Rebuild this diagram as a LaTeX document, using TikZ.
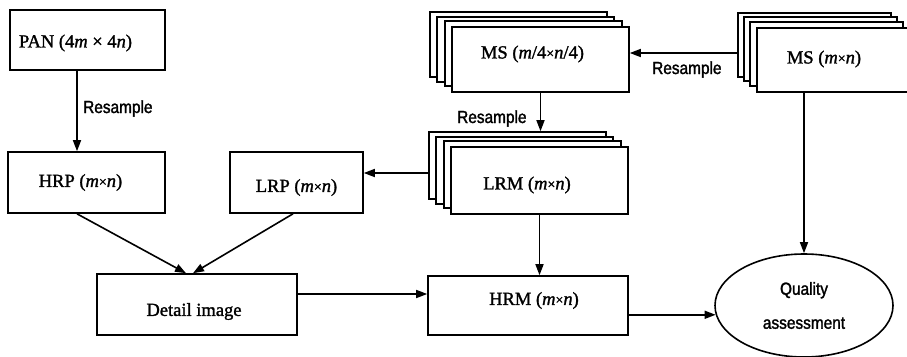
\documentclass[tikz,border=0pt]{standalone}
\usepackage{fontspec}
\setmainfont{Liberation Serif}[FakeBold=1.4]
\newfontfamily\narrowsans{Liberation Sans}[FakeStretch=0.88,FakeBold=1.6]
\usetikzlibrary{arrows.meta,shapes.geometric}
% small multiplication sign used in the (m x n) size tags
\newcommand\smx{\raisebox{0.5pt}{\fontsize{14}{14}\selectfont ×}}

\begin{document}
\begin{tikzpicture}[x=1pt,y=-1pt,
  every node/.style={inner sep=0pt},
  box/.style={draw, line width=1.6pt, fill=white, rectangle},
  lbl/.style={font=\fontsize{18.5}{21}\selectfont},
  note/.style={font=\narrowsans\fontsize{17.5}{20}\selectfont},
  arr/.style={line width=1.6pt, -{Triangle[length=11pt,width=8pt]}},
  msq/.style={box, minimum width=177pt, minimum height=65pt},
  lrm/.style={box, minimum width=177pt, minimum height=67pt},
  msn/.style={box, minimum width=153pt, minimum height=64pt},
]
\useasboundingbox (0,0) rectangle (907,356);

% panchromatic branch
\node[box, minimum width=155pt, minimum height=60pt,
  label={[lbl,xshift=-12pt,yshift=-3pt]center:PAN (4\textit{m} × 4\textit{n})}] (pan) at (87.5,40) {};
\node[box, minimum width=157pt, minimum height=61pt,
  label={[lbl,xshift=-6pt]center:HRP (\textit{m}\smx\textit{n})}] (hrp) at (86.5,182.5) {};
\node[box, minimum width=133pt, minimum height=61pt,
  label={[lbl,yshift=-5pt]center:LRP (\textit{m}\smx\textit{n})}] (lrp) at (296.5,182.5) {};
\node[box, minimum width=200pt, minimum height=61pt,
  label={[lbl,xshift=-3pt,yshift=-7pt]center:Detail image}] (detail) at (197,304.5) {};
\node[box, minimum width=200pt, minimum height=59pt,
  label={[lbl,xshift=6pt,yshift=5pt]center:HRM (\textit{m}\smx\textit{n})}] (hrm) at (528,305.5) {};

% stack of low resolution multispectral bands
\node[msq] (msq3) at (518.5,44.5) {};
\node[msq] (msq2) at (525.5,49.5) {};
\node[msq] (msq1) at (533.5,53.5) {};
\node[msq, label={[lbl,xshift=-8pt,yshift=5.5pt]center:MS (\textit{m}/4\smx\textit{n}/4)}] (msq) at (540.5,59.5) {};

% stack of resampled multispectral bands
\node[lrm] (lrm3) at (517.5,165.5) {};
\node[lrm] (lrm2) at (524.5,170.5) {};
\node[lrm] (lrm1) at (532.5,174.5) {};
\node[lrm, label={[lbl,xshift=-12.5pt,yshift=-4.5pt]center:LRM (\textit{m}\smx\textit{n})}] (lrm) at (539.5,180.5) {};

% stack of original multispectral bands
\node[msn] (msn3) at (814.5,45) {};
\node[msn] (msn2) at (820.5,49) {};
\node[msn] (msn1) at (826.5,54) {};
\node[msn, label={[lbl,xshift=-9.5pt,yshift=1pt]center:MS (\textit{m}\smx\textit{n})}] (msn) at (833.5,60) {};

% evaluation
\node[draw, ellipse, line width=1.6pt, minimum width=178pt, minimum height=103pt,
  align=center, font=\narrowsans\fontsize{17.5}{34}\selectfont] (qa) at (804,305.5) {Quality\\assessment};

% process labels
\node[note, anchor=base west] (rs1) at (83,113) {Resample};
\node[note, anchor=base west] (rs2) at (652,74) {Resample};
\node[note, anchor=base west] (rs3) at (457,123) {Resample};

% helper positions for the connectors
\coordinate (xa) at (77,0);
\coordinate (ya) at (0,53);
\coordinate (yb) at (0,173);
\coordinate (d1) at ([yshift=10.5pt]detail.east);

% connectors
\draw[arr] (pan.south -| xa) -- (hrp.north -| xa);
\draw[arr] (hrp.south -| xa) -- ([xshift=-11pt]detail.north);
\draw[arr] ([xshift=-3.5pt]lrp.south) -- ([xshift=-4pt]detail.north);
\draw[arr] (d1) -- (d1 -| hrm.west);
\draw[arr] (msn3.west |- ya) -- (msq.east |- ya);
\draw[arr] (msq.south) -- (msq.south |- lrm3.north);
\draw[arr] (lrm3.west |- yb) -- (lrp.east |- yb);
\draw[arr] (lrm.south) -- (lrm.south |- hrm.north);
\draw[arr] (msn.south -| qa.north) -- (qa.north);
\draw[arr] (hrm.east |- qa.186) -- (qa.186);
\end{tikzpicture}
\end{document}
